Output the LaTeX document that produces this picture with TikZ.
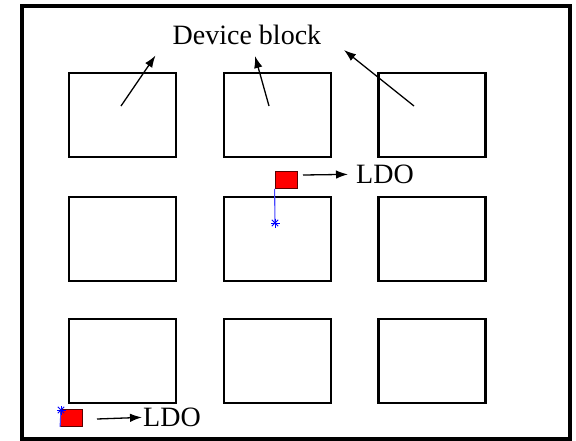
\documentclass[tikz,border=0pt]{standalone}
\usepackage{fontspec}
\setmainfont{Liberation Serif}
\usetikzlibrary{arrows.meta}
\definecolor{ldored}{RGB}{255,0,0}
\definecolor{ldoedge}{RGB}{90,0,0}
\definecolor{probe}{RGB}{70,70,255}
\tikzset{
  frame/.style={draw=black,line width=4pt},
  block/.style={draw=black,line width=2.6pt,minimum width=107pt,minimum height=84pt,inner sep=0pt},
  ldobox/.style={draw=ldoedge,fill=ldored,line width=0.8pt,minimum width=22pt,minimum height=17pt,inner sep=0pt},
  pointer/.style={draw=black,line width=1.3pt,-{Latex[length=12pt,width=8.5pt]}},
  label/.style={font=\fontsize{28}{28}\selectfont,inner sep=0pt},
  probeline/.style={draw=probe,line width=1.1pt},
  probemark/.style={draw=blue,line width=1pt},
}
\begin{document}
\begin{tikzpicture}[x=1pt,y=-1pt]
\useasboundingbox (0,0) rectangle (576,440);
\fill[white] (0,0) rectangle (576,440);
% chip outline
\draw[frame] (22,5.5) rectangle (569.5,438.5);

% 3x3 grid of device blocks
\node[block] (b11) at (122.5,115) {};
\node[block] (b12) at (277.5,115) {};
\node[block] (b13) at (432,115) {};
\node[block] (b21) at (122.5,239) {};
\node[block] (b22) at (277.5,239) {};
\node[block] (b23) at (432,239) {};
\node[block] (b31) at (122.5,361) {};
\node[block] (b32) at (277.5,361) {};
\node[block] (b33) at (432,361) {};

% title and its pointers
\node[label,anchor=base west] (dev) at (172.5,44.5) {Device block};
\coordinate (s1) at (121,106);
\coordinate (s2) at (269,106);
\coordinate (s3) at (414,106);
\coordinate (t1) at (155.5,55.5);
\coordinate (t2) at (255,56);
\coordinate (t3) at (344,50);
\draw[pointer] (s1) -- (t1);
\draw[pointer] (s2) -- (t2);
\draw[pointer] (s3) -- (t3);

% upper regulator
\node[ldobox] (ldo1) at (286,180) {};
\node[label,anchor=base west] (ldotext1) at (356,183.5) {LDO};
\coordinate (a1) at (303,175);
\coordinate (m1) at (275,223);
\draw[probeline] (ldo1.south west) -- (m1);
\foreach \ang in {0,45,90,135}
  \draw[probemark] (m1) ++(\ang:4.5) -- ++(\ang+180:9);
\draw[pointer] (a1) -- ([xshift=-8pt]ldotext1.west);

% lower regulator
\node[ldobox] (ldo2) at (71.5,418) {};
\node[label,anchor=base west] (ldotext2) at (143,426.5) {LDO};
\coordinate (a2) at (97,419);
\coordinate (m2) at (61,410);
\draw[probeline] (ldo2.south west) -- (m2);
\foreach \ang in {0,45,90,135}
  \draw[probemark] (m2) ++(\ang:4.5) -- ++(\ang+180:9);
\draw[pointer] (a2) -- ([xshift=-1pt]ldotext2.west);
\end{tikzpicture}
\end{document}
